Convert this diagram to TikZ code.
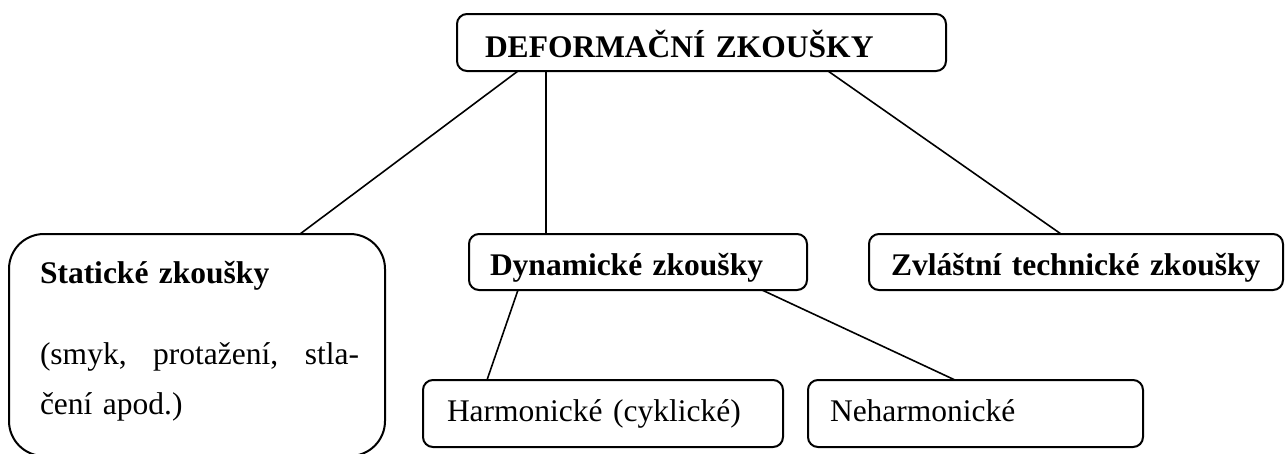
\documentclass[tikz,border=0pt]{standalone}
\usepackage{fontspec}
\setmainfont{Liberation Serif}

\begin{document}
\begin{tikzpicture}[-,x=1pt,y=-1pt,line width=1.6pt,
  test node/.style={draw,line width=2pt,rounded corners=10pt,anchor=north west,
    align=left,inner ysep=0pt,outer sep=0pt,font=\fontsize{31.5}{50}\selectfont},
  bold node/.style={test node,font=\fontsize{31.5}{50}\selectfont\bfseries}]
  \useasboundingbox (0,0) rectangle (1285,453);
  \node[bold node,inner xsep=28pt,text width=433pt,text height=43pt,text depth=14pt]
    (deform) at (457,14) {DEFORMAČNÍ ZKOUŠKY};
  \node[test node,rounded corners=35pt,inner xsep=31pt,text width=314pt,text height=49pt,text depth=173pt]
    (static) at (9,234) {\textbf{Statické zkoušky}\\[31pt]\makebox[319pt]{(smyk,\hfill protažení,\hfill stla-}\\čení apod.)};
  \node[bold node,inner xsep=21pt,text width=296pt,text height=41pt,text depth=15pt]
    (dynamic) at (469,234) {Dynamické zkoušky};
  \node[bold node,inner xsep=22pt,text width=370pt,text height=41pt,text depth=15pt]
    (special) at (869,234) {\mbox{Zvláštní technické zkoušky}};
  \node[test node,inner xsep=24pt,text width=312pt,text height=41pt,text depth=26pt]
    (harm) at (423,380) {Harmonické (cyklické)};
  \node[test node,inner xsep=22pt,text width=291pt,text height=41pt,text depth=26pt]
    (neharm) at (808,380) {Neharmonické};
  \path
    ([xshift=61pt]deform.south west) edge ([xshift=291pt]static.north west)
    ([xshift=89pt]deform.south west) edge ([xshift=77pt]dynamic.north west)
    ([xshift=371pt]deform.south west) edge ([xshift=192pt]special.north west)
    ([xshift=49pt]dynamic.south west) edge ([xshift=64pt]harm.north west)
    ([xshift=293pt]dynamic.south west) edge ([xshift=147pt]neharm.north west);
\end{tikzpicture}
\end{document}
